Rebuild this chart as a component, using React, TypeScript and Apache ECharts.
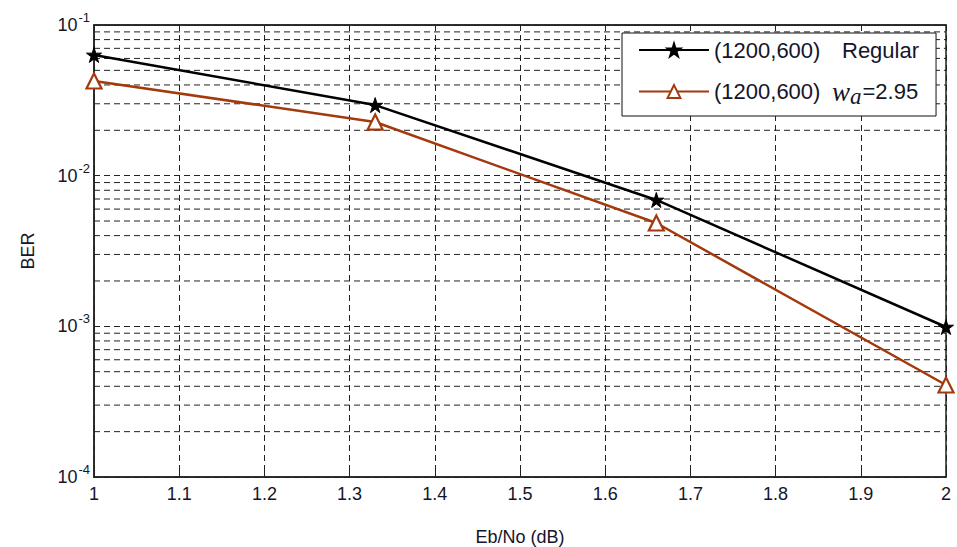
import React, { useEffect, useRef } from "react";
import * as echarts from "echarts";

// Eb/No operating points (dB)
const ebNo = [1, 1.33, 1.66, 2];
// BER of the regular (1200,600) code
const berRegular = [0.0633, 0.0294, 0.0069, 0.00099];
// BER of the (1200,600) code with w_a = 2.95
const berWeighted = [0.0425, 0.0227, 0.00485, 0.000408];

const seriesNames = ["regular", "weighted"];
const xTickLabels = ["1", "1.1", "1.2", "1.3", "1.4", "1.5", "1.6", "1.7", "1.8", "1.9", "2"];
const yDecadeExponents = [-4, -3, -2];
const minorMultipliers = [2, 3, 4, 5, 6, 7, 8, 9];
const xRange = [1, 2];

const BROWN = "#a3390d";
const STAR =
  "path://M50,0 L61.8,36.3 L100,36.3 L69.1,58.8 L80.9,95.1 L50,72.7 L19.1,95.1 L30.9,58.8 L0,36.3 L38.2,36.3 Z";

export default function App() {
  const ref = useRef<HTMLDivElement>(null);

  useEffect(() => {
    if (!ref.current) return;
    const chart = echarts.init(ref.current, null, { renderer: "svg" });

    const font = "Liberation Sans, Arial, sans-serif";
    const serif = "Liberation Serif, Times New Roman, serif";
    const textColor = "#15152a";
    const dash = [6, 4];

    // dashed minor grid lines at 2..9 x 10^k inside each decade
    const minorGridSeries: any[] = [];
    for (const e of yDecadeExponents) {
      for (const m of minorMultipliers) {
        const v = m * Math.pow(10, e);
        minorGridSeries.push({
          name: `grid-${m}e${e}`,
          type: "line",
          data: [
            [xRange[0], v],
            [xRange[1], v],
          ],
          symbol: "none",
          silent: true,
          lineStyle: { color: "#222", type: dash, width: 1 },
          z: 1,
        });
      }
    }

    chart.setOption({
      animation: false,
      backgroundColor: "#fff",
      grid: {
        left: 94,
        right: 11,
        top: 25,
        bottom: 70,
        outerBoundsMode: "none",
        show: true,
        borderColor: "#222",
        borderWidth: 1.5,
      },
      legend: {
        left: 622,
        top: 33,
        orient: "vertical",
        data: seriesNames,
        backgroundColor: "#fff",
        borderColor: "#111",
        borderWidth: 1,
        padding: [5, 17, 8, 16],
        itemGap: 13,
        itemWidth: 70,
        itemHeight: 16,
        z: 10,
        formatter: (name: string) =>
          name === "regular"
            ? "{p1|(1200,600)}{t|Regular}"
            : "{p2|(1200,600)}{w|w}{a|a}{t|=2.95}",
        textStyle: {
          fontFamily: font,
          fontSize: 22,
          color: textColor,
          lineHeight: 24,
          rich: {
            p1: { fontFamily: font, fontSize: 22, lineHeight: 24, color: textColor, width: 128 },
            p2: { fontFamily: font, fontSize: 22, lineHeight: 24, color: textColor, width: 118 },
            t: { fontFamily: font, fontSize: 22, lineHeight: 24, color: textColor },
            w: {
              fontFamily: serif,
              fontStyle: "italic",
              fontSize: 27,
              lineHeight: 24,
              color: textColor,
            },
            a: {
              fontFamily: serif,
              fontStyle: "italic",
              fontSize: 23,
              lineHeight: 24,
              color: textColor,
              padding: [10, 1, 0, 0],
            },
          },
        },
      },
      xAxis: [
        {
          type: "value",
          min: xRange[0],
          max: xRange[1],
          interval: 0.1,
          name: "Eb/No (dB)",
          nameLocation: "middle",
          nameGap: 51,
          nameTextStyle: { fontFamily: font, fontSize: 18, color: textColor },
          axisLine: { show: true, onZero: false, lineStyle: { color: "#222", width: 1.5 } },
          axisTick: { show: true, inside: true, length: 6, lineStyle: { color: "#222" } },
          axisLabel: {
            fontFamily: font,
            fontSize: 18,
            color: textColor,
            margin: 8,
            formatter: (v: number) => xTickLabels[Math.round((v - 1) * 10)] ?? "",
          },
          splitLine: { show: true, lineStyle: { color: "#222", type: dash, width: 1 } },
        },
        {
          type: "value",
          position: "top",
          min: xRange[0],
          max: xRange[1],
          interval: 0.1,
          axisLine: { show: true, onZero: false, lineStyle: { color: "#222", width: 1.5 } },
          axisTick: { show: true, inside: true, length: 6, lineStyle: { color: "#222" } },
          axisLabel: { show: false },
          splitLine: { show: false },
        },
      ],
      yAxis: {
        type: "log",
        logBase: 10,
        min: 1e-4,
        max: 1e-1,
        name: "BER",
        nameLocation: "middle",
        nameGap: 57,
        nameTextStyle: { fontFamily: font, fontSize: 18, color: textColor },
        axisLine: { show: true, lineStyle: { color: "#222", width: 1.5 } },
        axisTick: { show: true, inside: true, length: 6, lineStyle: { color: "#222" } },
        axisLabel: {
          margin: 4,
          formatter: (v: number) => {
            const e = Math.round(Math.log10(v));
            return `{b|10}{s|${e}}`;
          },
          rich: {
            b: { fontFamily: font, fontSize: 18, color: textColor },
            s: { fontFamily: font, fontSize: 13, color: textColor, padding: [0, 0, 15, 1] },
          },
        },
        splitLine: { show: true, lineStyle: { color: "#222", type: dash, width: 1 } },
      },
      series: [
        ...minorGridSeries,
        {
          name: "regular",
          type: "line",
          data: ebNo.map((x, i) => [x, berRegular[i]]),
          symbol: STAR,
          symbolSize: 15,
          color: "#000",
          lineStyle: { color: "#000", width: 2.5 },
          itemStyle: { color: "#000", borderColor: "#000", borderWidth: 1 },
          z: 5,
        },
        {
          name: "weighted",
          type: "line",
          data: ebNo.map((x, i) => [x, berWeighted[i]]),
          symbol: "triangle",
          symbolSize: 15,
          color: BROWN,
          lineStyle: { color: BROWN, width: 2.5 },
          itemStyle: { color: "#fff", borderColor: BROWN, borderWidth: 2.2 },
          z: 4,
        },
      ],
    });

    return () => chart.dispose();
  }, []);

  return (
    <div
      ref={ref}
      style={{ position: "fixed", left: 0, top: 0, width: 957, height: 547 }}
    />
  );
}
